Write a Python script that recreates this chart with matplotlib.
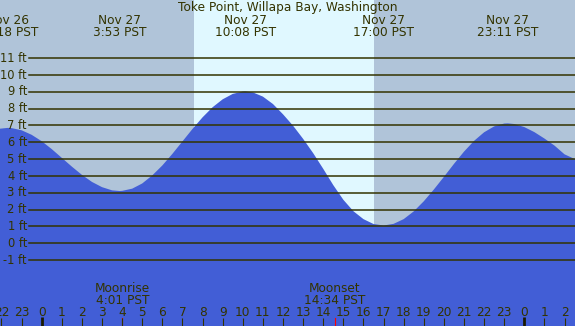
import numpy as np
import matplotlib
matplotlib.use('Agg')
import matplotlib.pyplot as plt

# tide height (ft), hours from midnight Nov 27 PST
hours = [-2.1, -1.7, -1.5, -1, -0.5, 0, 0.5, 1, 1.5, 2, 2.5, 3, 3.5, 3.88,
         4, 4.5, 5, 5.5, 6, 6.5, 7, 7.5, 8, 8.5, 9, 9.5, 10, 10.13,
         10.5, 11, 11.5, 12, 12.5, 13, 13.5, 14, 14.5, 15, 15.5, 16, 16.5, 17,
         17.5, 18, 18.5, 19, 19.5, 20, 20.5, 21, 21.5, 22, 22.5, 23, 23.18,
         23.5, 24, 24.5, 25, 25.5, 26, 26.6]
heights = [6.80, 6.85, 6.84, 6.71, 6.44, 6.06, 5.59, 5.07, 4.55, 4.06, 3.64, 3.33, 3.14, 3.10,
           3.11, 3.24, 3.55, 4.03, 4.62, 5.31, 6.05, 6.79, 7.48, 8.08, 8.55, 8.87, 9.01, 9.02,
           8.96, 8.71, 8.27, 7.66, 6.98, 6.20, 5.35, 4.42, 3.45, 2.58, 1.90, 1.43, 1.14, 1.05,
           1.15, 1.43, 1.89, 2.49, 3.19, 3.94, 4.71, 5.44, 6.08, 6.59, 6.94, 7.11, 7.12,
           7.08, 6.90, 6.60, 6.22, 5.80, 5.28, 4.95]

# extremes labelled along the top
ext_hours = [-1.7, 3.883, 10.133, 17.0, 23.183]
ext_dates = ['Nov 26', 'Nov 27', 'Nov 27', 'Nov 27', 'Nov 27']
ext_times = ['22:18 PST', '3:53 PST', '10:08 PST', '17:00 PST', '23:11 PST']

sunrise, sunset = 7.57, 16.53
moon_hours = [4.017, 14.567]
moon_names = ['Moonrise', 'Moonset']
moon_times = ['4:01 PST', '14:34 PST']

levels = list(range(-1, 12))
tick_hours = list(range(-2, 27))

W, H = 575, 326
x_lo, x_hi = -2.074, 26.52
y_lo, y_hi = -4.92, 14.45

night = '#b0c4d9'
day = '#e0f8ff'
water = '#425ed6'
ink = '#333300'

fig = plt.figure(figsize=(W / 100, H / 100), dpi=100)
ax = fig.add_axes([0, 0, 1, 1])
ax.set_xlim(x_lo, x_hi)
ax.set_ylim(y_lo, y_hi)
ax.axis('off')
fig.patch.set_facecolor(night)

ax.axvspan(sunrise, sunset, color=day, lw=0, zorder=1)
ax.fill_between(hours, y_lo, heights, color=water, lw=0, zorder=2)

# height grid lines and labels
for lv in levels:
    ax.axhline(lv, xmin=29 / W, xmax=1, color=ink, lw=1.1, zorder=3)
    ax.annotate(f'{lv} ft', xy=(27 / W, lv), xycoords=('axes fraction', 'data'),
                xytext=(0, -3.7), textcoords='offset pixels',
                ha='right', va='baseline', fontsize=8.3, color=ink, zorder=4)

xt = ax.get_xaxis_transform()

ax.text(0.5, 1 - 11 / H, 'Toke Point, Willapa Bay, Washington', transform=ax.transAxes,
        ha='center', va='baseline', fontsize=8.7, color=ink)
for h, d, t in zip(ext_hours, ext_dates, ext_times):
    ax.text(h, 1 - 24 / H, d, transform=xt, ha='center', va='baseline', fontsize=8.7, color=ink)
    ax.text(h, 1 - 36 / H, t, transform=xt, ha='center', va='baseline', fontsize=8.7, color=ink)

for h, n, t in zip(moon_hours, moon_names, moon_times):
    ax.text(h, 1 - 291.7 / H, n, transform=xt, ha='center', va='baseline', fontsize=8.7, color=ink)
    ax.text(h, 1 - 303.7 / H, t, transform=xt, ha='center', va='baseline', fontsize=8.7, color=ink)
    ax.plot([h, h], [0, 8 / H], transform=xt, color='red', lw=0.8, zorder=5)

# hour ticks along the bottom
for h in tick_hours:
    ax.text(h, 1 - 316 / H, str(h % 24), transform=xt, ha='center', va='baseline',
            fontsize=8.7, color=ink)
    midnight = h % 24 == 0
    ax.plot([h, h], [0, (9 if midnight else 8) / H], transform=xt,
            color='#1a1a00' if midnight else ink,
            lw=2.0 if midnight else 0.8, solid_capstyle='butt', zorder=5)

fig.savefig('out.png', dpi=100, facecolor=fig.get_facecolor())
